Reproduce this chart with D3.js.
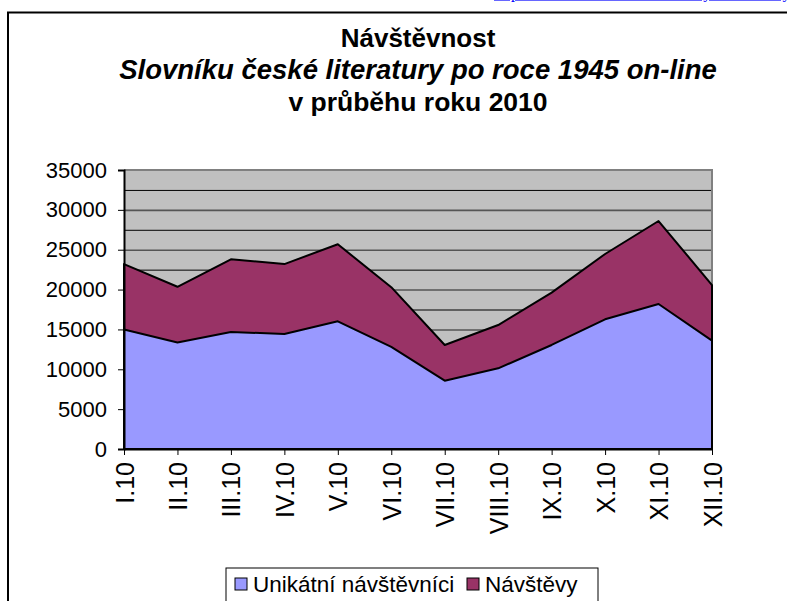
<!DOCTYPE html>
<html>
<head>
<meta charset="utf-8">
<script src="https://cdn.jsdelivr.net/npm/d3@7"></script>
<style>
  html, body { margin: 0; padding: 0; background: #fff; }
  svg { display: block; }
  text { font-family: Arial, "Liberation Sans", sans-serif; }
</style>
</head>
<body>
<div id="chart"></div>
<script>
// monthly visits to the dictionary site, 2010
const months = ['I.10', 'II.10', 'III.10', 'IV.10', 'V.10', 'VI.10',
                'VII.10', 'VIII.10', 'IX.10', 'X.10', 'XI.10', 'XII.10'];
const unikatni = [15000, 13350, 14680, 14430, 16020, 12800, 8570, 10120, 13050, 16270, 18190, 13590];
const navstevy = [23200, 20350, 23800, 23200, 25680, 20300, 13050, 15550, 19610, 24460, 28600, 20570];
const yTicks = [0, 5000, 10000, 15000, 20000, 25000, 30000, 35000];
const gridVals = d3.range(2500, 35000, 2500);
const seriesNames = ['Unikátní návštěvníci', 'Návštěvy'];
const titleLines = ['Návštěvnost', 'Slovníku české literatury po roce 1945 on-line', 'v průběhu roku 2010'];

const W = 787, H = 601;
const pLeft = 124, pRight = 712, pTop = 170, pBottom = 449;

const svg = d3.select('#chart').append('svg').attr('width', W).attr('height', H);

// chart frame
svg.append('rect')
  .attr('x', 8).attr('y', 12.5).attr('width', 820).attr('height', 640)
  .attr('fill', '#fff').attr('stroke', '#000').attr('stroke-width', 2);

// cut-off line of the surrounding document
svg.append('text')
  .attr('x', 494).attr('y', -2)
  .attr('fill', '#0000ff')
  .style('font-family', '"Liberation Serif", "Times New Roman", serif')
  .style('font-size', '16px')
  .style('text-decoration', 'underline')
  .text('http://www.slovnikceskeliteratury.cz/statistiky');

// title
const tY = [47, 79, 111];
const tSize = [26, 27.5, 26.5];
titleLines.forEach((t, i) => {
  svg.append('text')
    .attr('x', 418).attr('y', tY[i])
    .attr('text-anchor', 'middle')
    .style('font-size', tSize[i] + 'px')
    .style('font-weight', 'bold')
    .style('font-style', i == 1 ? 'italic' : 'normal')
    .text(t);
});

const x = d3.scalePoint().domain(months).range([pLeft, pRight]);
const y = d3.scaleLinear().domain([0, 35000]).range([pBottom, pTop]);

// plot background
svg.append('rect')
  .attr('x', pLeft).attr('y', pTop).attr('width', pRight - pLeft).attr('height', pBottom - pTop)
  .attr('fill', '#c0c0c0');

// gridlines
const grid = svg.append('g').attr('transform', `translate(${pLeft},0)`)
  .call(d3.axisLeft(y).tickValues(gridVals).tickSize(-(pRight - pLeft)).tickFormat(''));
grid.select('.domain').remove();
grid.selectAll('line')
  .attr('stroke', d => d % 5000 == 0 ? '#555' : '#000')
  .attr('stroke-width', d => d % 5000 == 0 ? 1.6 : 1);

// border top / right
svg.append('path')
  .attr('d', `M${pLeft},${pTop}H${pRight}V${pBottom}`)
  .attr('fill', 'none').attr('stroke', '#808080').attr('stroke-width', 2);

// areas (visits behind, unique visitors in front)
const area = vals => d3.area()
  .x((d, i) => x(months[i]))
  .y0(y(0))
  .y1(d => y(d))(vals);

svg.append('path').attr('d', area(navstevy))
  .attr('fill', '#993366').attr('stroke', '#000').attr('stroke-width', 2)
  .attr('stroke-linejoin', 'round');
svg.append('path').attr('d', area(unikatni))
  .attr('fill', '#9999ff').attr('stroke', '#000').attr('stroke-width', 2)
  .attr('stroke-linejoin', 'round');

// y axis
const yAxis = svg.append('g').attr('transform', `translate(${pLeft},0)`)
  .call(d3.axisLeft(y).tickValues(yTicks).tickSize(6).tickPadding(11).tickFormat(d => d));
yAxis.select('.domain').attr('stroke', '#000').attr('stroke-width', 2);
yAxis.selectAll('line').attr('stroke', '#000');
yAxis.selectAll('text')
  .style('font-size', '22px')
  .style('font-family', 'Arial, "Liberation Sans", sans-serif')
  .attr('fill', '#000');

// x axis
const xAxis = svg.append('g').attr('transform', `translate(0,${pBottom})`)
  .call(d3.axisBottom(x).tickSize(6).tickSizeOuter(0));
xAxis.select('.domain').attr('stroke', '#000').attr('stroke-width', 2);
xAxis.selectAll('line').attr('stroke', '#000');
xAxis.selectAll('text')
  .attr('transform', 'rotate(-90)')
  .attr('text-anchor', 'end')
  .attr('x', -13).attr('y', 0).attr('dy', '0.36em')
  .style('font-size', '25px')
  .style('font-family', 'Arial, "Liberation Sans", sans-serif')
  .attr('fill', '#000');

// legend
const lg = svg.append('g');
lg.append('rect')
  .attr('x', 226).attr('y', 568).attr('width', 372).attr('height', 34)
  .attr('fill', '#fff').attr('stroke', '#000').attr('stroke-width', 1);
const legX = [235, 467];
const colors = ['#9999ff', '#993366'];
seriesNames.forEach((n, i) => {
  lg.append('rect')
    .attr('x', legX[i]).attr('y', 578).attr('width', 12).attr('height', 12)
    .attr('fill', colors[i]).attr('stroke', '#000').attr('stroke-width', 1);
  lg.append('text')
    .attr('x', legX[i] + 18).attr('y', 592)
    .style('font-size', '22.5px')
    .text(n);
});
</script>
</body>
</html>
